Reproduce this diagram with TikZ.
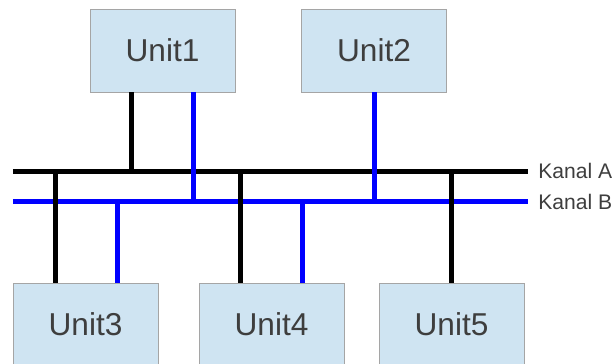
\documentclass[tikz,border=0pt]{standalone}
\usepackage{fontspec}
\setmainfont{Liberation Sans}
\definecolor{unitfill}{RGB}{207,228,242}
\definecolor{unitline}{RGB}{165,165,165}
\definecolor{unittext}{RGB}{62,62,62}
\begin{document}
\begin{tikzpicture}
              \clip (0,0) rectangle (12.32,7.26);
              \begin{scope}[every node/.style={draw=unitline, fill=unitfill, text=unittext, inner sep=0pt,
                  minimum width=2.9cm, minimum height=1.66cm, font=\fontsize{18}{20}\selectfont}]
                \node (u1) at (3.25,6.25) {Unit1};
                \node (u2) at (7.48,6.25) {Unit2};
                \node (u3) at (1.71,0.77) {Unit3};
                \node (u4) at (5.43,0.77) {Unit4};
                \node (u5) at (9.03,0.77) {Unit5};
              \end{scope}
              % bus ends and taps
              \coordinate (al) at (0.26,3.84);
              \coordinate (ar) at (10.56,3.84);
              \coordinate (bl) at (0.26,3.23);
              \coordinate (br) at (10.56,3.23);
              \coordinate (a1) at (2.62,3.84);
              \coordinate (b1) at (3.86,3.23);
              \coordinate (b2) at (7.48,3.23);
              \coordinate (a3) at (1.10,3.84);
              \coordinate (b3) at (2.34,3.23);
              \coordinate (a4) at (4.80,3.84);
              \coordinate (b4) at (6.04,3.23);
              \coordinate (a5) at (9.02,3.84);
              \begin{scope}[every edge/.style={draw, line width=0.1cm}]
                \path (al) edge[black] (ar);
                \path (bl) edge[blue] (br);
                \path (u1.south -| a1) edge[black] (a1);
                \path (u1.south -| b1) edge[blue] (b1);
                \path (u2.south) edge[blue] (b2);
                \path (a3) edge[black] (u3.north -| a3);
                \path (b3) edge[blue] (u3.north -| b3);
                \path (a4) edge[black] (u4.north -| a4);
                \path (b4) edge[blue] (u4.north -| b4);
                \path (a5) edge[black] (u5.north -| a5);
              \end{scope}
              \node[anchor=west, inner sep=0pt, text=unittext, font=\fontsize{12}{14}\selectfont] (ka) at ([xshift=0.2cm]ar) {Kanal A};
              \node[anchor=west, inner sep=0pt, text=unittext, font=\fontsize{12}{14}\selectfont] (kb) at ([xshift=0.2cm]br) {Kanal B};
            \end{tikzpicture}
\end{document}
